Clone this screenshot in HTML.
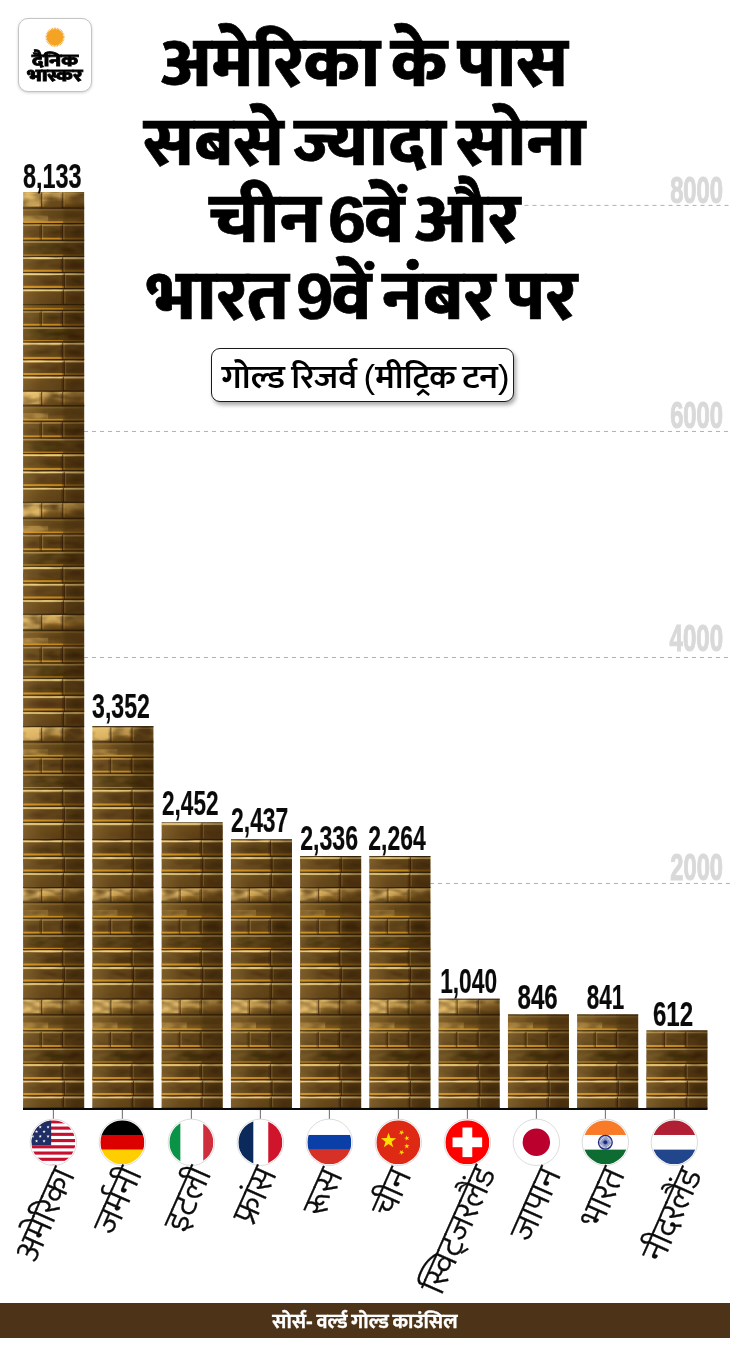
<!DOCTYPE html>
<html lang="hi"><head><meta charset="utf-8"><title>गोल्ड रिजर्व</title><style>
html,body{margin:0;padding:0;background:#fff}
body{width:730px;height:1351px;position:relative;overflow:hidden;font-family:"Liberation Sans","Mukta","Ek Mukta","Noto Sans Devanagari","Lohit Devanagari","FreeSans",sans-serif;color:#000}
#g{position:absolute;left:0;top:0}
.t{position:absolute;left:0;width:730px;text-align:center;white-space:nowrap;font-weight:800;font-size:70.5px;line-height:74px;-webkit-text-stroke:.7px #000;word-spacing:-9.5px}
.t span{background:#fff;display:inline-block;height:74px;transform:scaleX(1.033);transform-origin:50% 50%}
.t .d{font-weight:700;margin:0 -2px 0 -3.5px;font-size:64.5px}
.num{font-family:"Liberation Sans",sans-serif;font-weight:700}
#logo{position:absolute;left:18px;top:18px;width:72px;height:72px;border:1px solid #c4c4c4;border-radius:10px;background:#fff;box-shadow:0 1px 3px rgba(0,0,0,.18)}
#logo div{position:absolute;left:0;width:72px;text-align:center;font-weight:800;white-space:nowrap;-webkit-text-stroke:.8px #000}
#pill{position:absolute;left:211.3px;top:347.7px;width:300.5px;height:51.9px;border:1.6px solid #1a1a1a;border-radius:9px;background:#fff;box-shadow:2px 3px 4px rgba(0,0,0,.35);text-align:center;font-weight:600;font-size:32.5px;line-height:57px;white-space:nowrap;word-spacing:-3.1px}
#pill i{font-style:normal;font-weight:400}
#pill span{display:inline-block;transform:scaleX(1.07);position:relative;left:3.5px}
#foot{position:absolute;left:0;top:1303.3px;width:730px;height:34.7px;background:#4d3318;color:#fff;text-align:center;font-weight:700;font-size:20.3px;line-height:37.4px;white-space:nowrap;word-spacing:-2px;-webkit-text-stroke:.3px #fff}
</style></head><body>
<svg id="g" width="730" height="1351" viewBox="0 0 730 1351"><defs><linearGradient id="gL3" x1="0" y1="0" x2="0" y2="1"><stop offset="0" stop-color="#c49a4a"/><stop offset="0.15" stop-color="#c9a050"/><stop offset="0.6" stop-color="#a87c32"/><stop offset="0.85" stop-color="#6c4b19"/><stop offset="1" stop-color="#48300f"/></linearGradient><linearGradient id="gF" x1="0" y1="0" x2="0" y2="1"><stop offset="0" stop-color="#533a13"/><stop offset="0.12" stop-color="#73521d"/><stop offset="0.5" stop-color="#6c4b1c"/><stop offset="0.85" stop-color="#7e5c22"/><stop offset="1" stop-color="#644517"/></linearGradient><linearGradient id="g3" x1="0" y1="0" x2="0" y2="1"><stop offset="0" stop-color="#b48c40"/><stop offset="0.12" stop-color="#614316"/><stop offset="0.5" stop-color="#513711"/><stop offset="0.85" stop-color="#593d15"/><stop offset="1" stop-color="#694613"/></linearGradient><linearGradient id="gF2" x1="0" y1="0" x2="0" y2="1"><stop offset="0" stop-color="#8a662a"/><stop offset="0.12" stop-color="#533911"/><stop offset="0.5" stop-color="#48310e"/><stop offset="0.85" stop-color="#513711"/><stop offset="1" stop-color="#5a3d12"/></linearGradient><linearGradient id="gS1" x1="0" y1="0" x2="0" y2="1"><stop offset="0" stop-color="#dcb966"/><stop offset="0.11" stop-color="#b68e42"/><stop offset="0.2" stop-color="#5c4015"/><stop offset="0.6" stop-color="#533911"/><stop offset="0.85" stop-color="#604216"/><stop offset="1" stop-color="#694613"/></linearGradient><linearGradient id="gS2" x1="0" y1="0" x2="0" y2="1"><stop offset="0" stop-color="#dcb966"/><stop offset="0.11" stop-color="#b68e42"/><stop offset="0.2" stop-color="#604216"/><stop offset="0.6" stop-color="#563a12"/><stop offset="0.85" stop-color="#604216"/><stop offset="1" stop-color="#694613"/></linearGradient><linearGradient id="gS3" x1="0" y1="0" x2="0" y2="1"><stop offset="0" stop-color="#dcb966"/><stop offset="0.11" stop-color="#aa843a"/><stop offset="0.2" stop-color="#68481a"/><stop offset="0.6" stop-color="#614217"/><stop offset="0.85" stop-color="#5c4016"/><stop offset="1" stop-color="#48300f"/></linearGradient><linearGradient id="gH" x1="0" y1="0" x2="1" y2="0"><stop offset="0" stop-color="#ffd37a" stop-opacity=".18"/><stop offset=".3" stop-color="#ffd37a" stop-opacity=".05"/><stop offset=".62" stop-color="#2a1600" stop-opacity=".04"/><stop offset=".7" stop-color="#2a1600" stop-opacity=".26"/><stop offset="1" stop-color="#2a1600" stop-opacity=".4"/></linearGradient><filter id="mot" x="0" y="0" width="1" height="1"><feTurbulence type="fractalNoise" baseFrequency="0.05 0.11" numOctaves="2" seed="4" result="n"/><feColorMatrix in="n" type="matrix" values="0 0 0 0 0.12  0 0 0 0 0.06  0 0 0 0 0.01  2.4 0 0 0 -0.85"/><feComposite operator="in" in2="SourceGraphic"/></filter><filter id="bl2" x="-0.1" y="-0.01" width="1.2" height="1.02"><feGaussianBlur stdDeviation="1.6"/></filter><filter id="bl" x="-0.1" y="-0.01" width="1.2" height="1.02"><feGaussianBlur stdDeviation="0.45"/></filter><clipPath id="fc"><circle r="22.0"/></clipPath><clipPath id="c0"><rect x="0" y="192" width="61" height="916.5"/></clipPath><clipPath id="c1"><rect x="0" y="726.3" width="61" height="382.20000000000005"/></clipPath><clipPath id="c2"><rect x="0" y="822.5" width="61" height="286.0"/></clipPath><clipPath id="c3"><rect x="0" y="839.5" width="61" height="269.0"/></clipPath><clipPath id="c4"><rect x="0" y="856" width="61" height="252.5"/></clipPath><clipPath id="c5"><rect x="0" y="856" width="61" height="252.5"/></clipPath><clipPath id="c6"><rect x="0" y="998.7" width="61" height="109.79999999999995"/></clipPath><clipPath id="c7"><rect x="0" y="1014.5" width="61" height="94.0"/></clipPath><clipPath id="c8"><rect x="0" y="1014.5" width="61" height="94.0"/></clipPath><clipPath id="c9"><rect x="0" y="1030.5" width="61" height="78.0"/></clipPath><g id="gold"><g filter="url(#bl)"><rect x="-1" y="192.0" width="63" height="16.8" fill="url(#gL3)"/><rect x="-1" y="192.0" width="19" height="14.5" fill="#ecc676" fill-opacity=".7"/><rect x="18.4" y="192.0" width="21" height="9.1" fill="#ecc676" fill-opacity=".4"/><rect x="-1" y="208.5" width="63" height="15.8" fill="url(#gF)"/><rect x="-1" y="215.5" width="26" height="6.2" fill="#e0b862" fill-opacity=".45"/><rect x="-1" y="224.0" width="63" height="17.0" fill="url(#g3)"/><rect x="-1" y="240.7" width="63" height="16.4" fill="url(#gF2)"/><rect x="-1" y="256.8" width="63" height="16.4" fill="url(#gS1)"/><rect x="-1" y="272.9" width="63" height="16.4" fill="url(#gS2)"/><rect x="-1" y="289.0" width="63" height="16.4" fill="url(#gS3)"/><rect x="-1" y="305.1" width="63" height="5.9" fill="url(#gF)"/><rect x="-1" y="310.7" width="63" height="16.4" fill="url(#g3)"/><rect x="-1" y="326.8" width="63" height="15.9" fill="url(#gF2)"/><rect x="-1" y="342.4" width="63" height="18.0" fill="url(#gS1)"/><rect x="-1" y="360.1" width="63" height="16.4" fill="url(#gS2)"/><rect x="-1" y="376.2" width="63" height="15.6" fill="url(#gS3)"/><rect x="-1" y="391.5" width="63" height="15.0" fill="url(#gL3)"/><rect x="-1" y="391.5" width="19" height="12.7" fill="#ecc676" fill-opacity=".7"/><rect x="18.4" y="391.5" width="21" height="8.1" fill="#ecc676" fill-opacity=".4"/><rect x="-1" y="406.2" width="63" height="15.8" fill="url(#gF)"/><rect x="-1" y="413.2" width="26" height="6.2" fill="#e0b862" fill-opacity=".45"/><rect x="-1" y="421.7" width="63" height="17.0" fill="url(#g3)"/><rect x="-1" y="438.4" width="63" height="15.8" fill="url(#gF2)"/><rect x="-1" y="453.9" width="63" height="17.5" fill="url(#gS1)"/><rect x="-1" y="471.1" width="63" height="16.6" fill="url(#gS2)"/><rect x="-1" y="487.4" width="63" height="15.6" fill="url(#gS3)"/><rect x="-1" y="502.7" width="63" height="16.3" fill="url(#gL3)"/><rect x="-1" y="502.7" width="19" height="14.0" fill="#ecc676" fill-opacity=".7"/><rect x="18.4" y="502.7" width="21" height="8.8" fill="#ecc676" fill-opacity=".4"/><rect x="-1" y="518.7" width="63" height="16.0" fill="url(#gF)"/><rect x="-1" y="525.8" width="26" height="6.3" fill="#e0b862" fill-opacity=".45"/><rect x="-1" y="534.4" width="63" height="17.3" fill="url(#g3)"/><rect x="-1" y="551.4" width="63" height="15.6" fill="url(#gF2)"/><rect x="-1" y="566.7" width="63" height="17.0" fill="url(#gS1)"/><rect x="-1" y="583.4" width="63" height="16.6" fill="url(#gS2)"/><rect x="-1" y="599.7" width="63" height="15.3" fill="url(#gS3)"/><rect x="-1" y="614.7" width="63" height="16.3" fill="url(#gL3)"/><rect x="-1" y="614.7" width="19" height="14.0" fill="#ecc676" fill-opacity=".7"/><rect x="18.4" y="614.7" width="21" height="8.8" fill="#ecc676" fill-opacity=".4"/><rect x="-1" y="630.7" width="63" height="16.0" fill="url(#gF)"/><rect x="-1" y="637.8" width="26" height="6.3" fill="#e0b862" fill-opacity=".45"/><rect x="-1" y="646.4" width="63" height="17.3" fill="url(#g3)"/><rect x="-1" y="663.4" width="63" height="15.6" fill="url(#gF2)"/><rect x="-1" y="678.7" width="63" height="17.3" fill="url(#gS1)"/><rect x="-1" y="695.7" width="63" height="16.3" fill="url(#gS2)"/><rect x="-1" y="711.7" width="63" height="15.6" fill="url(#gS3)"/><rect x="-1" y="727.0" width="63" height="15.7" fill="url(#gL3)"/><rect x="-1" y="727.0" width="19" height="13.4" fill="#ecc676" fill-opacity=".7"/><rect x="18.4" y="727.0" width="21" height="8.5" fill="#ecc676" fill-opacity=".4"/><rect x="-1" y="742.4" width="63" height="15.6" fill="url(#gF)"/><rect x="-1" y="749.3" width="26" height="6.1" fill="#e0b862" fill-opacity=".45"/><rect x="-1" y="757.7" width="63" height="16.3" fill="url(#g3)"/><rect x="-1" y="773.7" width="63" height="16.0" fill="url(#gF2)"/><rect x="-1" y="789.4" width="63" height="17.6" fill="url(#gS1)"/><rect x="-1" y="806.7" width="63" height="16.3" fill="url(#gS2)"/><rect x="-1" y="822.7" width="63" height="17.6" fill="url(#gS3)"/><rect x="-1" y="840.0" width="63" height="17.0" fill="url(#gS1)"/><rect x="-1" y="856.7" width="63" height="16.3" fill="url(#gS2)"/><rect x="-1" y="872.7" width="63" height="15.6" fill="url(#gS3)"/><rect x="-1" y="888.0" width="63" height="15.0" fill="url(#gL3)"/><rect x="-1" y="888.0" width="19" height="12.7" fill="#ecc676" fill-opacity=".7"/><rect x="18.4" y="888.0" width="21" height="8.1" fill="#ecc676" fill-opacity=".4"/><rect x="-1" y="902.7" width="63" height="16.3" fill="url(#gF)"/><rect x="-1" y="909.9" width="26" height="6.4" fill="#e0b862" fill-opacity=".45"/><rect x="-1" y="918.7" width="63" height="16.3" fill="url(#g3)"/><rect x="-1" y="934.7" width="63" height="15.6" fill="url(#gF2)"/><rect x="-1" y="950.0" width="63" height="17.0" fill="url(#gS1)"/><rect x="-1" y="966.7" width="63" height="16.3" fill="url(#gS2)"/><rect x="-1" y="982.7" width="63" height="17.0" fill="url(#gS3)"/><rect x="-1" y="999.4" width="63" height="16.1" fill="url(#gL3)"/><rect x="-1" y="999.4" width="19" height="13.8" fill="#ecc676" fill-opacity=".7"/><rect x="18.4" y="999.4" width="21" height="8.7" fill="#ecc676" fill-opacity=".4"/><rect x="-1" y="1015.2" width="63" height="16.3" fill="url(#gF)"/><rect x="-1" y="1022.4" width="26" height="6.4" fill="#e0b862" fill-opacity=".45"/><rect x="-1" y="1031.2" width="63" height="17.1" fill="url(#g3)"/><rect x="-1" y="1048.0" width="63" height="16.0" fill="url(#gF2)"/><rect x="-1" y="1063.7" width="63" height="16.8" fill="url(#gS1)"/><rect x="-1" y="1080.2" width="63" height="16.3" fill="url(#gS2)"/><rect x="-1" y="1096.2" width="63" height="12.6" fill="url(#gS3)"/></g><g filter="url(#bl2)" fill="#241402"><ellipse cx="30" cy="202.9" rx="7" ry="2.8" fill-opacity="0.32"/><ellipse cx="52" cy="201.1" rx="7" ry="3" fill-opacity="0.2"/><ellipse cx="38" cy="214.4" rx="20" ry="2.8" fill-opacity="0.28"/><ellipse cx="29" cy="233.2" rx="7" ry="3.6" fill-opacity="0.38"/><ellipse cx="51" cy="232.3" rx="8" ry="4.2" fill-opacity="0.42"/><ellipse cx="8" cy="234.0" rx="6" ry="3" fill-opacity="0.25"/><ellipse cx="24" cy="248.8" rx="18" ry="3.8" fill-opacity="0.3"/><ellipse cx="52" cy="249.6" rx="8" ry="3.5" fill-opacity="0.25"/><ellipse cx="22" cy="266.1" rx="16" ry="3.4" fill-opacity="0.32"/><ellipse cx="52" cy="264.9" rx="7" ry="3.5" fill-opacity="0.25"/><ellipse cx="20" cy="280.9" rx="14" ry="3.2" fill-opacity="0.22"/><ellipse cx="53" cy="281.8" rx="6" ry="3.5" fill-opacity="0.28"/><ellipse cx="52" cy="297.9" rx="7" ry="3.5" fill-opacity="0.2"/><ellipse cx="29" cy="319.6" rx="7" ry="3.6" fill-opacity="0.38"/><ellipse cx="51" cy="318.8" rx="8" ry="4.2" fill-opacity="0.42"/><ellipse cx="8" cy="320.4" rx="6" ry="3" fill-opacity="0.25"/><ellipse cx="24" cy="334.6" rx="18" ry="3.8" fill-opacity="0.3"/><ellipse cx="52" cy="335.4" rx="8" ry="3.5" fill-opacity="0.25"/><ellipse cx="22" cy="352.7" rx="16" ry="3.4" fill-opacity="0.32"/><ellipse cx="52" cy="351.2" rx="7" ry="3.5" fill-opacity="0.25"/><ellipse cx="20" cy="368.1" rx="14" ry="3.2" fill-opacity="0.22"/><ellipse cx="53" cy="369.0" rx="6" ry="3.5" fill-opacity="0.28"/><ellipse cx="52" cy="384.6" rx="7" ry="3.5" fill-opacity="0.2"/><ellipse cx="30" cy="401.2" rx="7" ry="2.8" fill-opacity="0.32"/><ellipse cx="52" cy="399.6" rx="7" ry="3" fill-opacity="0.2"/><ellipse cx="38" cy="412.1" rx="20" ry="2.8" fill-opacity="0.28"/><ellipse cx="29" cy="430.9" rx="7" ry="3.6" fill-opacity="0.38"/><ellipse cx="51" cy="430.0" rx="8" ry="4.2" fill-opacity="0.42"/><ellipse cx="8" cy="431.7" rx="6" ry="3" fill-opacity="0.25"/><ellipse cx="24" cy="446.1" rx="18" ry="3.8" fill-opacity="0.3"/><ellipse cx="52" cy="446.9" rx="8" ry="3.5" fill-opacity="0.25"/><ellipse cx="22" cy="463.9" rx="16" ry="3.4" fill-opacity="0.32"/><ellipse cx="52" cy="462.5" rx="7" ry="3.5" fill-opacity="0.25"/><ellipse cx="20" cy="479.2" rx="14" ry="3.2" fill-opacity="0.22"/><ellipse cx="53" cy="480.1" rx="6" ry="3.5" fill-opacity="0.28"/><ellipse cx="52" cy="495.8" rx="7" ry="3.5" fill-opacity="0.2"/><ellipse cx="30" cy="513.3" rx="7" ry="2.8" fill-opacity="0.32"/><ellipse cx="52" cy="511.5" rx="7" ry="3" fill-opacity="0.2"/><ellipse cx="38" cy="524.7" rx="20" ry="2.8" fill-opacity="0.28"/><ellipse cx="29" cy="543.8" rx="7" ry="3.6" fill-opacity="0.38"/><ellipse cx="51" cy="542.9" rx="8" ry="4.2" fill-opacity="0.42"/><ellipse cx="8" cy="544.6" rx="6" ry="3" fill-opacity="0.25"/><ellipse cx="24" cy="559.1" rx="18" ry="3.8" fill-opacity="0.3"/><ellipse cx="52" cy="559.8" rx="8" ry="3.5" fill-opacity="0.25"/><ellipse cx="22" cy="576.4" rx="16" ry="3.4" fill-opacity="0.32"/><ellipse cx="52" cy="575.1" rx="7" ry="3.5" fill-opacity="0.25"/><ellipse cx="20" cy="591.6" rx="14" ry="3.2" fill-opacity="0.22"/><ellipse cx="53" cy="592.4" rx="6" ry="3.5" fill-opacity="0.28"/><ellipse cx="52" cy="608.0" rx="7" ry="3.5" fill-opacity="0.2"/><ellipse cx="30" cy="625.3" rx="7" ry="2.8" fill-opacity="0.32"/><ellipse cx="52" cy="623.5" rx="7" ry="3" fill-opacity="0.2"/><ellipse cx="38" cy="636.7" rx="20" ry="2.8" fill-opacity="0.28"/><ellipse cx="29" cy="655.8" rx="7" ry="3.6" fill-opacity="0.38"/><ellipse cx="51" cy="654.9" rx="8" ry="4.2" fill-opacity="0.42"/><ellipse cx="8" cy="656.6" rx="6" ry="3" fill-opacity="0.25"/><ellipse cx="24" cy="671.1" rx="18" ry="3.8" fill-opacity="0.3"/><ellipse cx="52" cy="671.8" rx="8" ry="3.5" fill-opacity="0.25"/><ellipse cx="22" cy="688.6" rx="16" ry="3.4" fill-opacity="0.32"/><ellipse cx="52" cy="687.2" rx="7" ry="3.5" fill-opacity="0.25"/><ellipse cx="20" cy="703.7" rx="14" ry="3.2" fill-opacity="0.22"/><ellipse cx="53" cy="704.5" rx="6" ry="3.5" fill-opacity="0.28"/><ellipse cx="52" cy="720.1" rx="7" ry="3.5" fill-opacity="0.2"/><ellipse cx="30" cy="737.2" rx="7" ry="2.8" fill-opacity="0.32"/><ellipse cx="52" cy="735.5" rx="7" ry="3" fill-opacity="0.2"/><ellipse cx="38" cy="748.2" rx="20" ry="2.8" fill-opacity="0.28"/><ellipse cx="29" cy="766.5" rx="7" ry="3.6" fill-opacity="0.38"/><ellipse cx="51" cy="765.7" rx="8" ry="4.2" fill-opacity="0.42"/><ellipse cx="8" cy="767.3" rx="6" ry="3" fill-opacity="0.25"/><ellipse cx="24" cy="781.6" rx="18" ry="3.8" fill-opacity="0.3"/><ellipse cx="52" cy="782.3" rx="8" ry="3.5" fill-opacity="0.25"/><ellipse cx="22" cy="799.4" rx="16" ry="3.4" fill-opacity="0.32"/><ellipse cx="52" cy="798.1" rx="7" ry="3.5" fill-opacity="0.25"/><ellipse cx="20" cy="814.7" rx="14" ry="3.2" fill-opacity="0.22"/><ellipse cx="53" cy="815.5" rx="6" ry="3.5" fill-opacity="0.28"/><ellipse cx="52" cy="832.2" rx="7" ry="3.5" fill-opacity="0.2"/><ellipse cx="22" cy="849.7" rx="16" ry="3.4" fill-opacity="0.32"/><ellipse cx="52" cy="848.4" rx="7" ry="3.5" fill-opacity="0.25"/><ellipse cx="20" cy="864.7" rx="14" ry="3.2" fill-opacity="0.22"/><ellipse cx="53" cy="865.5" rx="6" ry="3.5" fill-opacity="0.28"/><ellipse cx="52" cy="881.1" rx="7" ry="3.5" fill-opacity="0.2"/><ellipse cx="30" cy="897.7" rx="7" ry="2.8" fill-opacity="0.32"/><ellipse cx="52" cy="896.1" rx="7" ry="3" fill-opacity="0.2"/><ellipse cx="38" cy="908.8" rx="20" ry="2.8" fill-opacity="0.28"/><ellipse cx="29" cy="927.5" rx="7" ry="3.6" fill-opacity="0.38"/><ellipse cx="51" cy="926.7" rx="8" ry="4.2" fill-opacity="0.42"/><ellipse cx="8" cy="928.3" rx="6" ry="3" fill-opacity="0.25"/><ellipse cx="24" cy="942.4" rx="18" ry="3.8" fill-opacity="0.3"/><ellipse cx="52" cy="943.1" rx="8" ry="3.5" fill-opacity="0.25"/><ellipse cx="22" cy="959.7" rx="16" ry="3.4" fill-opacity="0.32"/><ellipse cx="52" cy="958.4" rx="7" ry="3.5" fill-opacity="0.25"/><ellipse cx="20" cy="974.7" rx="14" ry="3.2" fill-opacity="0.22"/><ellipse cx="53" cy="975.5" rx="6" ry="3.5" fill-opacity="0.28"/><ellipse cx="52" cy="991.9" rx="7" ry="3.5" fill-opacity="0.2"/><ellipse cx="30" cy="1009.8" rx="7" ry="2.8" fill-opacity="0.32"/><ellipse cx="52" cy="1008.1" rx="7" ry="3" fill-opacity="0.2"/><ellipse cx="38" cy="1021.3" rx="20" ry="2.8" fill-opacity="0.28"/><ellipse cx="29" cy="1040.4" rx="7" ry="3.6" fill-opacity="0.38"/><ellipse cx="51" cy="1039.6" rx="8" ry="4.2" fill-opacity="0.42"/><ellipse cx="8" cy="1041.3" rx="6" ry="3" fill-opacity="0.25"/><ellipse cx="24" cy="1055.8" rx="18" ry="3.8" fill-opacity="0.3"/><ellipse cx="52" cy="1056.6" rx="8" ry="3.5" fill-opacity="0.25"/><ellipse cx="22" cy="1073.3" rx="16" ry="3.4" fill-opacity="0.32"/><ellipse cx="52" cy="1072.0" rx="7" ry="3.5" fill-opacity="0.25"/><ellipse cx="20" cy="1088.2" rx="14" ry="3.2" fill-opacity="0.22"/><ellipse cx="53" cy="1089.0" rx="6" ry="3.5" fill-opacity="0.28"/><ellipse cx="52" cy="1103.0" rx="7" ry="3.5" fill-opacity="0.2"/></g><rect x="0" y="192" width="61" height="917" fill="#000" filter="url(#mot)"/><g filter="url(#bl)"><rect x="-1" y="192.7" width="63" height="1.4" fill="#f5dc92" fill-opacity="0.25"/><rect x="-1" y="207.5" width="63" height="1.2" fill="#2a1703" fill-opacity=".85"/><rect x="17.8" y="192.5" width="1.2" height="16.0" fill="#2a1703" fill-opacity=".62"/><rect x="19.2" y="193.5" width="1.2" height="13.5" fill="#e9c877" fill-opacity=".22"/><rect x="16.2" y="193.5" width="1.6" height="13.5" fill="#2a1703" fill-opacity=".22"/><rect x="38.9" y="192.5" width="1.2" height="16.0" fill="#2a1703" fill-opacity=".62"/><rect x="40.3" y="193.5" width="1.2" height="13.5" fill="#e9c877" fill-opacity=".22"/><rect x="37.3" y="193.5" width="1.6" height="13.5" fill="#2a1703" fill-opacity=".22"/><rect x="-1" y="209.2" width="63" height="1.4" fill="#f5dc92" fill-opacity="0.15"/><rect x="-1" y="221.2" width="41.0" height="1.8" fill="#d8941c" fill-opacity=".85"/><rect x="40.0" y="221.2" width="22.0" height="1.8" fill="#c4841a" fill-opacity=".45"/><rect x="-1" y="223.0" width="63" height="1.2" fill="#2a1703" fill-opacity=".85"/><rect x="-1" y="224.7" width="63" height="1.4" fill="#f5dc92" fill-opacity="0.35"/><rect x="-1" y="237.7" width="40.3" height="2.0" fill="#d8941c" fill-opacity=".85"/><rect x="39.3" y="237.7" width="22.7" height="2.0" fill="#c4841a" fill-opacity=".45"/><rect x="-1" y="239.7" width="63" height="1.2" fill="#2a1703" fill-opacity=".85"/><rect x="17.4" y="224.5" width="1.2" height="16.2" fill="#2a1703" fill-opacity=".62"/><rect x="18.8" y="225.5" width="1.2" height="13.7" fill="#e9c877" fill-opacity=".22"/><rect x="15.8" y="225.5" width="1.6" height="13.7" fill="#2a1703" fill-opacity=".22"/><rect x="38.7" y="224.5" width="1.2" height="16.2" fill="#2a1703" fill-opacity=".62"/><rect x="40.1" y="225.5" width="1.2" height="13.7" fill="#e9c877" fill-opacity=".22"/><rect x="37.1" y="225.5" width="1.6" height="13.7" fill="#2a1703" fill-opacity=".22"/><rect x="-1" y="241.4" width="63" height="1.4" fill="#f5dc92" fill-opacity="0.45"/><rect x="-1" y="254.6" width="41.0" height="1.2" fill="#d8941c" fill-opacity=".85"/><rect x="40.0" y="254.6" width="22.0" height="1.2" fill="#c4841a" fill-opacity=".45"/><rect x="-1" y="255.8" width="63" height="1.2" fill="#2a1703" fill-opacity=".85"/><rect x="-1" y="257.5" width="63" height="1.4" fill="#f5dc92" fill-opacity="0.85"/><rect x="-1" y="269.7" width="40.5" height="2.2" fill="#d8941c" fill-opacity=".85"/><rect x="39.5" y="269.7" width="22.5" height="2.2" fill="#c4841a" fill-opacity=".45"/><rect x="-1" y="271.9" width="63" height="1.2" fill="#2a1703" fill-opacity=".85"/><rect x="38.9" y="257.3" width="1.2" height="15.6" fill="#2a1703" fill-opacity=".62"/><rect x="40.3" y="258.3" width="1.2" height="13.1" fill="#e9c877" fill-opacity=".22"/><rect x="37.3" y="258.3" width="1.6" height="13.1" fill="#2a1703" fill-opacity=".22"/><rect x="-1" y="273.6" width="63" height="1.4" fill="#f5dc92" fill-opacity="0.85"/><rect x="-1" y="285.8" width="42.0" height="2.2" fill="#d8941c" fill-opacity=".85"/><rect x="41.0" y="285.8" width="21.0" height="2.2" fill="#c4841a" fill-opacity=".45"/><rect x="-1" y="288.0" width="63" height="1.2" fill="#2a1703" fill-opacity=".85"/><rect x="40.4" y="273.4" width="1.2" height="15.6" fill="#2a1703" fill-opacity=".62"/><rect x="41.8" y="274.4" width="1.2" height="13.1" fill="#e9c877" fill-opacity=".22"/><rect x="38.8" y="274.4" width="1.6" height="13.1" fill="#2a1703" fill-opacity=".22"/><rect x="-1" y="289.7" width="63" height="1.4" fill="#f5dc92" fill-opacity="0.85"/><rect x="-1" y="304.1" width="63" height="1.2" fill="#2a1703" fill-opacity=".85"/><rect x="39.7" y="289.5" width="1.2" height="15.6" fill="#2a1703" fill-opacity=".62"/><rect x="41.1" y="290.5" width="1.2" height="13.1" fill="#e9c877" fill-opacity=".22"/><rect x="38.1" y="290.5" width="1.6" height="13.1" fill="#2a1703" fill-opacity=".22"/><rect x="-1" y="308.2" width="41.0" height="1.5" fill="#d8941c" fill-opacity=".85"/><rect x="40.0" y="308.2" width="22.0" height="1.5" fill="#c4841a" fill-opacity=".45"/><rect x="-1" y="309.7" width="63" height="1.2" fill="#2a1703" fill-opacity=".85"/><rect x="-1" y="311.4" width="63" height="1.4" fill="#f5dc92" fill-opacity="0.35"/><rect x="-1" y="323.8" width="40.3" height="2.0" fill="#d8941c" fill-opacity=".85"/><rect x="39.3" y="323.8" width="22.7" height="2.0" fill="#c4841a" fill-opacity=".45"/><rect x="-1" y="325.8" width="63" height="1.2" fill="#2a1703" fill-opacity=".85"/><rect x="17.4" y="311.2" width="1.2" height="15.6" fill="#2a1703" fill-opacity=".62"/><rect x="18.8" y="312.2" width="1.2" height="13.1" fill="#e9c877" fill-opacity=".22"/><rect x="15.8" y="312.2" width="1.6" height="13.1" fill="#2a1703" fill-opacity=".22"/><rect x="38.7" y="311.2" width="1.2" height="15.6" fill="#2a1703" fill-opacity=".62"/><rect x="40.1" y="312.2" width="1.2" height="13.1" fill="#e9c877" fill-opacity=".22"/><rect x="37.1" y="312.2" width="1.6" height="13.1" fill="#2a1703" fill-opacity=".22"/><rect x="-1" y="327.5" width="63" height="1.4" fill="#f5dc92" fill-opacity="0.45"/><rect x="-1" y="340.2" width="41.0" height="1.2" fill="#d8941c" fill-opacity=".85"/><rect x="40.0" y="340.2" width="22.0" height="1.2" fill="#c4841a" fill-opacity=".45"/><rect x="-1" y="341.4" width="63" height="1.2" fill="#2a1703" fill-opacity=".85"/><rect x="-1" y="343.1" width="63" height="1.4" fill="#f5dc92" fill-opacity="0.85"/><rect x="-1" y="356.9" width="40.5" height="2.2" fill="#d8941c" fill-opacity=".85"/><rect x="39.5" y="356.9" width="22.5" height="2.2" fill="#c4841a" fill-opacity=".45"/><rect x="-1" y="359.1" width="63" height="1.2" fill="#2a1703" fill-opacity=".85"/><rect x="38.9" y="342.9" width="1.2" height="17.2" fill="#2a1703" fill-opacity=".62"/><rect x="40.3" y="343.9" width="1.2" height="14.7" fill="#e9c877" fill-opacity=".22"/><rect x="37.3" y="343.9" width="1.6" height="14.7" fill="#2a1703" fill-opacity=".22"/><rect x="-1" y="360.8" width="63" height="1.4" fill="#f5dc92" fill-opacity="0.85"/><rect x="-1" y="373.0" width="42.0" height="2.2" fill="#d8941c" fill-opacity=".85"/><rect x="41.0" y="373.0" width="21.0" height="2.2" fill="#c4841a" fill-opacity=".45"/><rect x="-1" y="375.2" width="63" height="1.2" fill="#2a1703" fill-opacity=".85"/><rect x="40.4" y="360.6" width="1.2" height="15.6" fill="#2a1703" fill-opacity=".62"/><rect x="41.8" y="361.6" width="1.2" height="13.1" fill="#e9c877" fill-opacity=".22"/><rect x="38.8" y="361.6" width="1.6" height="13.1" fill="#2a1703" fill-opacity=".22"/><rect x="-1" y="376.9" width="63" height="1.4" fill="#f5dc92" fill-opacity="0.85"/><rect x="-1" y="390.5" width="63" height="1.2" fill="#2a1703" fill-opacity=".85"/><rect x="39.7" y="376.7" width="1.2" height="14.8" fill="#2a1703" fill-opacity=".62"/><rect x="41.1" y="377.7" width="1.2" height="12.3" fill="#e9c877" fill-opacity=".22"/><rect x="38.1" y="377.7" width="1.6" height="12.3" fill="#2a1703" fill-opacity=".22"/><rect x="-1" y="392.2" width="63" height="1.4" fill="#f5dc92" fill-opacity="0.25"/><rect x="-1" y="405.2" width="63" height="1.2" fill="#2a1703" fill-opacity=".85"/><rect x="17.8" y="392.0" width="1.2" height="14.2" fill="#2a1703" fill-opacity=".62"/><rect x="19.2" y="393.0" width="1.2" height="11.7" fill="#e9c877" fill-opacity=".22"/><rect x="16.2" y="393.0" width="1.6" height="11.7" fill="#2a1703" fill-opacity=".22"/><rect x="38.9" y="392.0" width="1.2" height="14.2" fill="#2a1703" fill-opacity=".62"/><rect x="40.3" y="393.0" width="1.2" height="11.7" fill="#e9c877" fill-opacity=".22"/><rect x="37.3" y="393.0" width="1.6" height="11.7" fill="#2a1703" fill-opacity=".22"/><rect x="-1" y="406.9" width="63" height="1.4" fill="#f5dc92" fill-opacity="0.15"/><rect x="-1" y="418.9" width="41.0" height="1.8" fill="#d8941c" fill-opacity=".85"/><rect x="40.0" y="418.9" width="22.0" height="1.8" fill="#c4841a" fill-opacity=".45"/><rect x="-1" y="420.7" width="63" height="1.2" fill="#2a1703" fill-opacity=".85"/><rect x="-1" y="422.4" width="63" height="1.4" fill="#f5dc92" fill-opacity="0.35"/><rect x="-1" y="435.4" width="40.3" height="2.0" fill="#d8941c" fill-opacity=".85"/><rect x="39.3" y="435.4" width="22.7" height="2.0" fill="#c4841a" fill-opacity=".45"/><rect x="-1" y="437.4" width="63" height="1.2" fill="#2a1703" fill-opacity=".85"/><rect x="17.4" y="422.2" width="1.2" height="16.2" fill="#2a1703" fill-opacity=".62"/><rect x="18.8" y="423.2" width="1.2" height="13.7" fill="#e9c877" fill-opacity=".22"/><rect x="15.8" y="423.2" width="1.6" height="13.7" fill="#2a1703" fill-opacity=".22"/><rect x="38.7" y="422.2" width="1.2" height="16.2" fill="#2a1703" fill-opacity=".62"/><rect x="40.1" y="423.2" width="1.2" height="13.7" fill="#e9c877" fill-opacity=".22"/><rect x="37.1" y="423.2" width="1.6" height="13.7" fill="#2a1703" fill-opacity=".22"/><rect x="-1" y="439.1" width="63" height="1.4" fill="#f5dc92" fill-opacity="0.45"/><rect x="-1" y="451.7" width="41.0" height="1.2" fill="#d8941c" fill-opacity=".85"/><rect x="40.0" y="451.7" width="22.0" height="1.2" fill="#c4841a" fill-opacity=".45"/><rect x="-1" y="452.9" width="63" height="1.2" fill="#2a1703" fill-opacity=".85"/><rect x="-1" y="454.6" width="63" height="1.4" fill="#f5dc92" fill-opacity="0.85"/><rect x="-1" y="467.9" width="40.5" height="2.2" fill="#d8941c" fill-opacity=".85"/><rect x="39.5" y="467.9" width="22.5" height="2.2" fill="#c4841a" fill-opacity=".45"/><rect x="-1" y="470.1" width="63" height="1.2" fill="#2a1703" fill-opacity=".85"/><rect x="38.9" y="454.4" width="1.2" height="16.7" fill="#2a1703" fill-opacity=".62"/><rect x="40.3" y="455.4" width="1.2" height="14.2" fill="#e9c877" fill-opacity=".22"/><rect x="37.3" y="455.4" width="1.6" height="14.2" fill="#2a1703" fill-opacity=".22"/><rect x="-1" y="471.8" width="63" height="1.4" fill="#f5dc92" fill-opacity="0.85"/><rect x="-1" y="484.2" width="42.0" height="2.2" fill="#d8941c" fill-opacity=".85"/><rect x="41.0" y="484.2" width="21.0" height="2.2" fill="#c4841a" fill-opacity=".45"/><rect x="-1" y="486.4" width="63" height="1.2" fill="#2a1703" fill-opacity=".85"/><rect x="40.4" y="471.6" width="1.2" height="15.8" fill="#2a1703" fill-opacity=".62"/><rect x="41.8" y="472.6" width="1.2" height="13.3" fill="#e9c877" fill-opacity=".22"/><rect x="38.8" y="472.6" width="1.6" height="13.3" fill="#2a1703" fill-opacity=".22"/><rect x="-1" y="488.1" width="63" height="1.4" fill="#f5dc92" fill-opacity="0.85"/><rect x="-1" y="501.7" width="63" height="1.2" fill="#2a1703" fill-opacity=".85"/><rect x="39.7" y="487.9" width="1.2" height="14.8" fill="#2a1703" fill-opacity=".62"/><rect x="41.1" y="488.9" width="1.2" height="12.3" fill="#e9c877" fill-opacity=".22"/><rect x="38.1" y="488.9" width="1.6" height="12.3" fill="#2a1703" fill-opacity=".22"/><rect x="-1" y="503.4" width="63" height="1.4" fill="#f5dc92" fill-opacity="0.25"/><rect x="-1" y="517.7" width="63" height="1.2" fill="#2a1703" fill-opacity=".85"/><rect x="17.8" y="503.2" width="1.2" height="15.5" fill="#2a1703" fill-opacity=".62"/><rect x="19.2" y="504.2" width="1.2" height="13.0" fill="#e9c877" fill-opacity=".22"/><rect x="16.2" y="504.2" width="1.6" height="13.0" fill="#2a1703" fill-opacity=".22"/><rect x="38.9" y="503.2" width="1.2" height="15.5" fill="#2a1703" fill-opacity=".62"/><rect x="40.3" y="504.2" width="1.2" height="13.0" fill="#e9c877" fill-opacity=".22"/><rect x="37.3" y="504.2" width="1.6" height="13.0" fill="#2a1703" fill-opacity=".22"/><rect x="-1" y="519.4" width="63" height="1.4" fill="#f5dc92" fill-opacity="0.15"/><rect x="-1" y="531.6" width="41.0" height="1.8" fill="#d8941c" fill-opacity=".85"/><rect x="40.0" y="531.6" width="22.0" height="1.8" fill="#c4841a" fill-opacity=".45"/><rect x="-1" y="533.4" width="63" height="1.2" fill="#2a1703" fill-opacity=".85"/><rect x="-1" y="535.1" width="63" height="1.4" fill="#f5dc92" fill-opacity="0.35"/><rect x="-1" y="548.4" width="40.3" height="2.0" fill="#d8941c" fill-opacity=".85"/><rect x="39.3" y="548.4" width="22.7" height="2.0" fill="#c4841a" fill-opacity=".45"/><rect x="-1" y="550.4" width="63" height="1.2" fill="#2a1703" fill-opacity=".85"/><rect x="17.4" y="534.9" width="1.2" height="16.5" fill="#2a1703" fill-opacity=".62"/><rect x="18.8" y="535.9" width="1.2" height="14.0" fill="#e9c877" fill-opacity=".22"/><rect x="15.8" y="535.9" width="1.6" height="14.0" fill="#2a1703" fill-opacity=".22"/><rect x="38.7" y="534.9" width="1.2" height="16.5" fill="#2a1703" fill-opacity=".62"/><rect x="40.1" y="535.9" width="1.2" height="14.0" fill="#e9c877" fill-opacity=".22"/><rect x="37.1" y="535.9" width="1.6" height="14.0" fill="#2a1703" fill-opacity=".22"/><rect x="-1" y="552.1" width="63" height="1.4" fill="#f5dc92" fill-opacity="0.45"/><rect x="-1" y="564.5" width="41.0" height="1.2" fill="#d8941c" fill-opacity=".85"/><rect x="40.0" y="564.5" width="22.0" height="1.2" fill="#c4841a" fill-opacity=".45"/><rect x="-1" y="565.7" width="63" height="1.2" fill="#2a1703" fill-opacity=".85"/><rect x="-1" y="567.4" width="63" height="1.4" fill="#f5dc92" fill-opacity="0.85"/><rect x="-1" y="580.2" width="40.5" height="2.2" fill="#d8941c" fill-opacity=".85"/><rect x="39.5" y="580.2" width="22.5" height="2.2" fill="#c4841a" fill-opacity=".45"/><rect x="-1" y="582.4" width="63" height="1.2" fill="#2a1703" fill-opacity=".85"/><rect x="38.9" y="567.2" width="1.2" height="16.2" fill="#2a1703" fill-opacity=".62"/><rect x="40.3" y="568.2" width="1.2" height="13.7" fill="#e9c877" fill-opacity=".22"/><rect x="37.3" y="568.2" width="1.6" height="13.7" fill="#2a1703" fill-opacity=".22"/><rect x="-1" y="584.1" width="63" height="1.4" fill="#f5dc92" fill-opacity="0.85"/><rect x="-1" y="596.5" width="42.0" height="2.2" fill="#d8941c" fill-opacity=".85"/><rect x="41.0" y="596.5" width="21.0" height="2.2" fill="#c4841a" fill-opacity=".45"/><rect x="-1" y="598.7" width="63" height="1.2" fill="#2a1703" fill-opacity=".85"/><rect x="40.4" y="583.9" width="1.2" height="15.8" fill="#2a1703" fill-opacity=".62"/><rect x="41.8" y="584.9" width="1.2" height="13.3" fill="#e9c877" fill-opacity=".22"/><rect x="38.8" y="584.9" width="1.6" height="13.3" fill="#2a1703" fill-opacity=".22"/><rect x="-1" y="600.4" width="63" height="1.4" fill="#f5dc92" fill-opacity="0.85"/><rect x="-1" y="613.7" width="63" height="1.2" fill="#2a1703" fill-opacity=".85"/><rect x="39.7" y="600.2" width="1.2" height="14.5" fill="#2a1703" fill-opacity=".62"/><rect x="41.1" y="601.2" width="1.2" height="12.0" fill="#e9c877" fill-opacity=".22"/><rect x="38.1" y="601.2" width="1.6" height="12.0" fill="#2a1703" fill-opacity=".22"/><rect x="-1" y="615.4" width="63" height="1.4" fill="#f5dc92" fill-opacity="0.25"/><rect x="-1" y="629.7" width="63" height="1.2" fill="#2a1703" fill-opacity=".85"/><rect x="17.8" y="615.2" width="1.2" height="15.5" fill="#2a1703" fill-opacity=".62"/><rect x="19.2" y="616.2" width="1.2" height="13.0" fill="#e9c877" fill-opacity=".22"/><rect x="16.2" y="616.2" width="1.6" height="13.0" fill="#2a1703" fill-opacity=".22"/><rect x="38.9" y="615.2" width="1.2" height="15.5" fill="#2a1703" fill-opacity=".62"/><rect x="40.3" y="616.2" width="1.2" height="13.0" fill="#e9c877" fill-opacity=".22"/><rect x="37.3" y="616.2" width="1.6" height="13.0" fill="#2a1703" fill-opacity=".22"/><rect x="-1" y="631.4" width="63" height="1.4" fill="#f5dc92" fill-opacity="0.15"/><rect x="-1" y="643.6" width="41.0" height="1.8" fill="#d8941c" fill-opacity=".85"/><rect x="40.0" y="643.6" width="22.0" height="1.8" fill="#c4841a" fill-opacity=".45"/><rect x="-1" y="645.4" width="63" height="1.2" fill="#2a1703" fill-opacity=".85"/><rect x="-1" y="647.1" width="63" height="1.4" fill="#f5dc92" fill-opacity="0.35"/><rect x="-1" y="660.4" width="40.3" height="2.0" fill="#d8941c" fill-opacity=".85"/><rect x="39.3" y="660.4" width="22.7" height="2.0" fill="#c4841a" fill-opacity=".45"/><rect x="-1" y="662.4" width="63" height="1.2" fill="#2a1703" fill-opacity=".85"/><rect x="17.4" y="646.9" width="1.2" height="16.5" fill="#2a1703" fill-opacity=".62"/><rect x="18.8" y="647.9" width="1.2" height="14.0" fill="#e9c877" fill-opacity=".22"/><rect x="15.8" y="647.9" width="1.6" height="14.0" fill="#2a1703" fill-opacity=".22"/><rect x="38.7" y="646.9" width="1.2" height="16.5" fill="#2a1703" fill-opacity=".62"/><rect x="40.1" y="647.9" width="1.2" height="14.0" fill="#e9c877" fill-opacity=".22"/><rect x="37.1" y="647.9" width="1.6" height="14.0" fill="#2a1703" fill-opacity=".22"/><rect x="-1" y="664.1" width="63" height="1.4" fill="#f5dc92" fill-opacity="0.45"/><rect x="-1" y="676.5" width="41.0" height="1.2" fill="#d8941c" fill-opacity=".85"/><rect x="40.0" y="676.5" width="22.0" height="1.2" fill="#c4841a" fill-opacity=".45"/><rect x="-1" y="677.7" width="63" height="1.2" fill="#2a1703" fill-opacity=".85"/><rect x="-1" y="679.4" width="63" height="1.4" fill="#f5dc92" fill-opacity="0.85"/><rect x="-1" y="692.5" width="40.5" height="2.2" fill="#d8941c" fill-opacity=".85"/><rect x="39.5" y="692.5" width="22.5" height="2.2" fill="#c4841a" fill-opacity=".45"/><rect x="-1" y="694.7" width="63" height="1.2" fill="#2a1703" fill-opacity=".85"/><rect x="38.9" y="679.2" width="1.2" height="16.5" fill="#2a1703" fill-opacity=".62"/><rect x="40.3" y="680.2" width="1.2" height="14.0" fill="#e9c877" fill-opacity=".22"/><rect x="37.3" y="680.2" width="1.6" height="14.0" fill="#2a1703" fill-opacity=".22"/><rect x="-1" y="696.4" width="63" height="1.4" fill="#f5dc92" fill-opacity="0.85"/><rect x="-1" y="708.5" width="42.0" height="2.2" fill="#d8941c" fill-opacity=".85"/><rect x="41.0" y="708.5" width="21.0" height="2.2" fill="#c4841a" fill-opacity=".45"/><rect x="-1" y="710.7" width="63" height="1.2" fill="#2a1703" fill-opacity=".85"/><rect x="40.4" y="696.2" width="1.2" height="15.5" fill="#2a1703" fill-opacity=".62"/><rect x="41.8" y="697.2" width="1.2" height="13.0" fill="#e9c877" fill-opacity=".22"/><rect x="38.8" y="697.2" width="1.6" height="13.0" fill="#2a1703" fill-opacity=".22"/><rect x="-1" y="712.4" width="63" height="1.4" fill="#f5dc92" fill-opacity="0.85"/><rect x="-1" y="726.0" width="63" height="1.2" fill="#2a1703" fill-opacity=".85"/><rect x="39.7" y="712.2" width="1.2" height="14.8" fill="#2a1703" fill-opacity=".62"/><rect x="41.1" y="713.2" width="1.2" height="12.3" fill="#e9c877" fill-opacity=".22"/><rect x="38.1" y="713.2" width="1.6" height="12.3" fill="#2a1703" fill-opacity=".22"/><rect x="-1" y="727.7" width="63" height="1.4" fill="#f5dc92" fill-opacity="0.25"/><rect x="-1" y="741.4" width="63" height="1.2" fill="#2a1703" fill-opacity=".85"/><rect x="17.8" y="727.5" width="1.2" height="14.9" fill="#2a1703" fill-opacity=".62"/><rect x="19.2" y="728.5" width="1.2" height="12.4" fill="#e9c877" fill-opacity=".22"/><rect x="16.2" y="728.5" width="1.6" height="12.4" fill="#2a1703" fill-opacity=".22"/><rect x="38.9" y="727.5" width="1.2" height="14.9" fill="#2a1703" fill-opacity=".62"/><rect x="40.3" y="728.5" width="1.2" height="12.4" fill="#e9c877" fill-opacity=".22"/><rect x="37.3" y="728.5" width="1.6" height="12.4" fill="#2a1703" fill-opacity=".22"/><rect x="-1" y="743.1" width="63" height="1.4" fill="#f5dc92" fill-opacity="0.15"/><rect x="-1" y="754.9" width="41.0" height="1.8" fill="#d8941c" fill-opacity=".85"/><rect x="40.0" y="754.9" width="22.0" height="1.8" fill="#c4841a" fill-opacity=".45"/><rect x="-1" y="756.7" width="63" height="1.2" fill="#2a1703" fill-opacity=".85"/><rect x="-1" y="758.4" width="63" height="1.4" fill="#f5dc92" fill-opacity="0.35"/><rect x="-1" y="770.7" width="40.3" height="2.0" fill="#d8941c" fill-opacity=".85"/><rect x="39.3" y="770.7" width="22.7" height="2.0" fill="#c4841a" fill-opacity=".45"/><rect x="-1" y="772.7" width="63" height="1.2" fill="#2a1703" fill-opacity=".85"/><rect x="17.4" y="758.2" width="1.2" height="15.5" fill="#2a1703" fill-opacity=".62"/><rect x="18.8" y="759.2" width="1.2" height="13.0" fill="#e9c877" fill-opacity=".22"/><rect x="15.8" y="759.2" width="1.6" height="13.0" fill="#2a1703" fill-opacity=".22"/><rect x="38.7" y="758.2" width="1.2" height="15.5" fill="#2a1703" fill-opacity=".62"/><rect x="40.1" y="759.2" width="1.2" height="13.0" fill="#e9c877" fill-opacity=".22"/><rect x="37.1" y="759.2" width="1.6" height="13.0" fill="#2a1703" fill-opacity=".22"/><rect x="-1" y="774.4" width="63" height="1.4" fill="#f5dc92" fill-opacity="0.45"/><rect x="-1" y="787.2" width="41.0" height="1.2" fill="#d8941c" fill-opacity=".85"/><rect x="40.0" y="787.2" width="22.0" height="1.2" fill="#c4841a" fill-opacity=".45"/><rect x="-1" y="788.4" width="63" height="1.2" fill="#2a1703" fill-opacity=".85"/><rect x="-1" y="790.1" width="63" height="1.4" fill="#f5dc92" fill-opacity="0.85"/><rect x="-1" y="803.5" width="40.5" height="2.2" fill="#d8941c" fill-opacity=".85"/><rect x="39.5" y="803.5" width="22.5" height="2.2" fill="#c4841a" fill-opacity=".45"/><rect x="-1" y="805.7" width="63" height="1.2" fill="#2a1703" fill-opacity=".85"/><rect x="38.9" y="789.9" width="1.2" height="16.8" fill="#2a1703" fill-opacity=".62"/><rect x="40.3" y="790.9" width="1.2" height="14.3" fill="#e9c877" fill-opacity=".22"/><rect x="37.3" y="790.9" width="1.6" height="14.3" fill="#2a1703" fill-opacity=".22"/><rect x="-1" y="807.4" width="63" height="1.4" fill="#f5dc92" fill-opacity="0.85"/><rect x="-1" y="819.5" width="42.0" height="2.2" fill="#d8941c" fill-opacity=".85"/><rect x="41.0" y="819.5" width="21.0" height="2.2" fill="#c4841a" fill-opacity=".45"/><rect x="-1" y="821.7" width="63" height="1.2" fill="#2a1703" fill-opacity=".85"/><rect x="40.4" y="807.2" width="1.2" height="15.5" fill="#2a1703" fill-opacity=".62"/><rect x="41.8" y="808.2" width="1.2" height="13.0" fill="#e9c877" fill-opacity=".22"/><rect x="38.8" y="808.2" width="1.6" height="13.0" fill="#2a1703" fill-opacity=".22"/><rect x="-1" y="823.4" width="63" height="1.4" fill="#f5dc92" fill-opacity="0.85"/><rect x="-1" y="839.0" width="63" height="1.2" fill="#2a1703" fill-opacity=".85"/><rect x="39.7" y="823.2" width="1.2" height="16.8" fill="#2a1703" fill-opacity=".62"/><rect x="41.1" y="824.2" width="1.2" height="14.3" fill="#e9c877" fill-opacity=".22"/><rect x="38.1" y="824.2" width="1.6" height="14.3" fill="#2a1703" fill-opacity=".22"/><rect x="-1" y="840.7" width="63" height="1.4" fill="#f5dc92" fill-opacity="0.85"/><rect x="-1" y="853.5" width="40.5" height="2.2" fill="#d8941c" fill-opacity=".85"/><rect x="39.5" y="853.5" width="22.5" height="2.2" fill="#c4841a" fill-opacity=".45"/><rect x="-1" y="855.7" width="63" height="1.2" fill="#2a1703" fill-opacity=".85"/><rect x="38.9" y="840.5" width="1.2" height="16.2" fill="#2a1703" fill-opacity=".62"/><rect x="40.3" y="841.5" width="1.2" height="13.7" fill="#e9c877" fill-opacity=".22"/><rect x="37.3" y="841.5" width="1.6" height="13.7" fill="#2a1703" fill-opacity=".22"/><rect x="-1" y="857.4" width="63" height="1.4" fill="#f5dc92" fill-opacity="0.85"/><rect x="-1" y="869.5" width="42.0" height="2.2" fill="#d8941c" fill-opacity=".85"/><rect x="41.0" y="869.5" width="21.0" height="2.2" fill="#c4841a" fill-opacity=".45"/><rect x="-1" y="871.7" width="63" height="1.2" fill="#2a1703" fill-opacity=".85"/><rect x="40.4" y="857.2" width="1.2" height="15.5" fill="#2a1703" fill-opacity=".62"/><rect x="41.8" y="858.2" width="1.2" height="13.0" fill="#e9c877" fill-opacity=".22"/><rect x="38.8" y="858.2" width="1.6" height="13.0" fill="#2a1703" fill-opacity=".22"/><rect x="-1" y="873.4" width="63" height="1.4" fill="#f5dc92" fill-opacity="0.85"/><rect x="-1" y="887.0" width="63" height="1.2" fill="#2a1703" fill-opacity=".85"/><rect x="39.7" y="873.2" width="1.2" height="14.8" fill="#2a1703" fill-opacity=".62"/><rect x="41.1" y="874.2" width="1.2" height="12.3" fill="#e9c877" fill-opacity=".22"/><rect x="38.1" y="874.2" width="1.6" height="12.3" fill="#2a1703" fill-opacity=".22"/><rect x="-1" y="888.7" width="63" height="1.4" fill="#f5dc92" fill-opacity="0.25"/><rect x="-1" y="901.7" width="63" height="1.2" fill="#2a1703" fill-opacity=".85"/><rect x="17.8" y="888.5" width="1.2" height="14.2" fill="#2a1703" fill-opacity=".62"/><rect x="19.2" y="889.5" width="1.2" height="11.7" fill="#e9c877" fill-opacity=".22"/><rect x="16.2" y="889.5" width="1.6" height="11.7" fill="#2a1703" fill-opacity=".22"/><rect x="38.9" y="888.5" width="1.2" height="14.2" fill="#2a1703" fill-opacity=".62"/><rect x="40.3" y="889.5" width="1.2" height="11.7" fill="#e9c877" fill-opacity=".22"/><rect x="37.3" y="889.5" width="1.6" height="11.7" fill="#2a1703" fill-opacity=".22"/><rect x="-1" y="903.4" width="63" height="1.4" fill="#f5dc92" fill-opacity="0.15"/><rect x="-1" y="915.9" width="41.0" height="1.8" fill="#d8941c" fill-opacity=".85"/><rect x="40.0" y="915.9" width="22.0" height="1.8" fill="#c4841a" fill-opacity=".45"/><rect x="-1" y="917.7" width="63" height="1.2" fill="#2a1703" fill-opacity=".85"/><rect x="-1" y="919.4" width="63" height="1.4" fill="#f5dc92" fill-opacity="0.35"/><rect x="-1" y="931.7" width="40.3" height="2.0" fill="#d8941c" fill-opacity=".85"/><rect x="39.3" y="931.7" width="22.7" height="2.0" fill="#c4841a" fill-opacity=".45"/><rect x="-1" y="933.7" width="63" height="1.2" fill="#2a1703" fill-opacity=".85"/><rect x="17.4" y="919.2" width="1.2" height="15.5" fill="#2a1703" fill-opacity=".62"/><rect x="18.8" y="920.2" width="1.2" height="13.0" fill="#e9c877" fill-opacity=".22"/><rect x="15.8" y="920.2" width="1.6" height="13.0" fill="#2a1703" fill-opacity=".22"/><rect x="38.7" y="919.2" width="1.2" height="15.5" fill="#2a1703" fill-opacity=".62"/><rect x="40.1" y="920.2" width="1.2" height="13.0" fill="#e9c877" fill-opacity=".22"/><rect x="37.1" y="920.2" width="1.6" height="13.0" fill="#2a1703" fill-opacity=".22"/><rect x="-1" y="935.4" width="63" height="1.4" fill="#f5dc92" fill-opacity="0.45"/><rect x="-1" y="947.8" width="41.0" height="1.2" fill="#d8941c" fill-opacity=".85"/><rect x="40.0" y="947.8" width="22.0" height="1.2" fill="#c4841a" fill-opacity=".45"/><rect x="-1" y="949.0" width="63" height="1.2" fill="#2a1703" fill-opacity=".85"/><rect x="-1" y="950.7" width="63" height="1.4" fill="#f5dc92" fill-opacity="0.85"/><rect x="-1" y="963.5" width="40.5" height="2.2" fill="#d8941c" fill-opacity=".85"/><rect x="39.5" y="963.5" width="22.5" height="2.2" fill="#c4841a" fill-opacity=".45"/><rect x="-1" y="965.7" width="63" height="1.2" fill="#2a1703" fill-opacity=".85"/><rect x="38.9" y="950.5" width="1.2" height="16.2" fill="#2a1703" fill-opacity=".62"/><rect x="40.3" y="951.5" width="1.2" height="13.7" fill="#e9c877" fill-opacity=".22"/><rect x="37.3" y="951.5" width="1.6" height="13.7" fill="#2a1703" fill-opacity=".22"/><rect x="-1" y="967.4" width="63" height="1.4" fill="#f5dc92" fill-opacity="0.85"/><rect x="-1" y="979.5" width="42.0" height="2.2" fill="#d8941c" fill-opacity=".85"/><rect x="41.0" y="979.5" width="21.0" height="2.2" fill="#c4841a" fill-opacity=".45"/><rect x="-1" y="981.7" width="63" height="1.2" fill="#2a1703" fill-opacity=".85"/><rect x="40.4" y="967.2" width="1.2" height="15.5" fill="#2a1703" fill-opacity=".62"/><rect x="41.8" y="968.2" width="1.2" height="13.0" fill="#e9c877" fill-opacity=".22"/><rect x="38.8" y="968.2" width="1.6" height="13.0" fill="#2a1703" fill-opacity=".22"/><rect x="-1" y="983.4" width="63" height="1.4" fill="#f5dc92" fill-opacity="0.85"/><rect x="-1" y="998.4" width="63" height="1.2" fill="#2a1703" fill-opacity=".85"/><rect x="39.7" y="983.2" width="1.2" height="16.2" fill="#2a1703" fill-opacity=".62"/><rect x="41.1" y="984.2" width="1.2" height="13.7" fill="#e9c877" fill-opacity=".22"/><rect x="38.1" y="984.2" width="1.6" height="13.7" fill="#2a1703" fill-opacity=".22"/><rect x="-1" y="1000.1" width="63" height="1.4" fill="#f5dc92" fill-opacity="0.25"/><rect x="-1" y="1014.2" width="63" height="1.2" fill="#2a1703" fill-opacity=".85"/><rect x="17.8" y="999.9" width="1.2" height="15.3" fill="#2a1703" fill-opacity=".62"/><rect x="19.2" y="1000.9" width="1.2" height="12.8" fill="#e9c877" fill-opacity=".22"/><rect x="16.2" y="1000.9" width="1.6" height="12.8" fill="#2a1703" fill-opacity=".22"/><rect x="38.9" y="999.9" width="1.2" height="15.3" fill="#2a1703" fill-opacity=".62"/><rect x="40.3" y="1000.9" width="1.2" height="12.8" fill="#e9c877" fill-opacity=".22"/><rect x="37.3" y="1000.9" width="1.6" height="12.8" fill="#2a1703" fill-opacity=".22"/><rect x="-1" y="1015.9" width="63" height="1.4" fill="#f5dc92" fill-opacity="0.15"/><rect x="-1" y="1028.4" width="41.0" height="1.8" fill="#d8941c" fill-opacity=".85"/><rect x="40.0" y="1028.4" width="22.0" height="1.8" fill="#c4841a" fill-opacity=".45"/><rect x="-1" y="1030.2" width="63" height="1.2" fill="#2a1703" fill-opacity=".85"/><rect x="-1" y="1031.9" width="63" height="1.4" fill="#f5dc92" fill-opacity="0.35"/><rect x="-1" y="1045.0" width="40.3" height="2.0" fill="#d8941c" fill-opacity=".85"/><rect x="39.3" y="1045.0" width="22.7" height="2.0" fill="#c4841a" fill-opacity=".45"/><rect x="-1" y="1047.0" width="63" height="1.2" fill="#2a1703" fill-opacity=".85"/><rect x="17.4" y="1031.7" width="1.2" height="16.3" fill="#2a1703" fill-opacity=".62"/><rect x="18.8" y="1032.7" width="1.2" height="13.8" fill="#e9c877" fill-opacity=".22"/><rect x="15.8" y="1032.7" width="1.6" height="13.8" fill="#2a1703" fill-opacity=".22"/><rect x="38.7" y="1031.7" width="1.2" height="16.3" fill="#2a1703" fill-opacity=".62"/><rect x="40.1" y="1032.7" width="1.2" height="13.8" fill="#e9c877" fill-opacity=".22"/><rect x="37.1" y="1032.7" width="1.6" height="13.8" fill="#2a1703" fill-opacity=".22"/><rect x="-1" y="1048.7" width="63" height="1.4" fill="#f5dc92" fill-opacity="0.45"/><rect x="-1" y="1061.5" width="41.0" height="1.2" fill="#d8941c" fill-opacity=".85"/><rect x="40.0" y="1061.5" width="22.0" height="1.2" fill="#c4841a" fill-opacity=".45"/><rect x="-1" y="1062.7" width="63" height="1.2" fill="#2a1703" fill-opacity=".85"/><rect x="-1" y="1064.4" width="63" height="1.4" fill="#f5dc92" fill-opacity="0.85"/><rect x="-1" y="1077.0" width="40.5" height="2.2" fill="#d8941c" fill-opacity=".85"/><rect x="39.5" y="1077.0" width="22.5" height="2.2" fill="#c4841a" fill-opacity=".45"/><rect x="-1" y="1079.2" width="63" height="1.2" fill="#2a1703" fill-opacity=".85"/><rect x="38.9" y="1064.2" width="1.2" height="16.0" fill="#2a1703" fill-opacity=".62"/><rect x="40.3" y="1065.2" width="1.2" height="13.5" fill="#e9c877" fill-opacity=".22"/><rect x="37.3" y="1065.2" width="1.6" height="13.5" fill="#2a1703" fill-opacity=".22"/><rect x="-1" y="1080.9" width="63" height="1.4" fill="#f5dc92" fill-opacity="0.85"/><rect x="-1" y="1093.0" width="42.0" height="2.2" fill="#d8941c" fill-opacity=".85"/><rect x="41.0" y="1093.0" width="21.0" height="2.2" fill="#c4841a" fill-opacity=".45"/><rect x="-1" y="1095.2" width="63" height="1.2" fill="#2a1703" fill-opacity=".85"/><rect x="40.4" y="1080.7" width="1.2" height="15.5" fill="#2a1703" fill-opacity=".62"/><rect x="41.8" y="1081.7" width="1.2" height="13.0" fill="#e9c877" fill-opacity=".22"/><rect x="38.8" y="1081.7" width="1.6" height="13.0" fill="#2a1703" fill-opacity=".22"/><rect x="-1" y="1096.9" width="63" height="1.4" fill="#f5dc92" fill-opacity="0.85"/><rect x="-1" y="1107.5" width="63" height="1.2" fill="#2a1703" fill-opacity=".85"/><rect x="39.7" y="1096.7" width="1.2" height="11.8" fill="#2a1703" fill-opacity=".62"/><rect x="41.1" y="1097.7" width="1.2" height="9.3" fill="#e9c877" fill-opacity=".22"/><rect x="38.1" y="1097.7" width="1.6" height="9.3" fill="#2a1703" fill-opacity=".22"/></g><rect x="0" y="192" width="61" height="917" fill="url(#gH)"/></g></defs><line x1="524.5" y1="205.4" x2="730" y2="205.4" stroke="#b0b0b0" stroke-width="1" stroke-dasharray="4 4"/><line x1="84" y1="431.45" x2="730" y2="431.45" stroke="#b0b0b0" stroke-width="1" stroke-dasharray="4 4"/><line x1="84" y1="657.5" x2="730" y2="657.5" stroke="#b0b0b0" stroke-width="1" stroke-dasharray="4 4"/><line x1="429.9" y1="883.45" x2="730" y2="883.45" stroke="#b0b0b0" stroke-width="1" stroke-dasharray="4 4"/><text transform="translate(670.14 202.6) scale(0.6564 1)" font-family="Liberation Sans, sans-serif" font-weight="700" font-size="36.2" fill="#d9d9d9" stroke="#d9d9d9" stroke-width="1.1">8000</text><text transform="translate(670.14 427.6) scale(0.6564 1)" font-family="Liberation Sans, sans-serif" font-weight="700" font-size="36.2" fill="#d9d9d9" stroke="#d9d9d9" stroke-width="1.1">6000</text><text transform="translate(669.54 650.8) scale(0.6641 1)" font-family="Liberation Sans, sans-serif" font-weight="700" font-size="36.2" fill="#d9d9d9" stroke="#d9d9d9" stroke-width="1.1">4000</text><text transform="translate(670.35 879.7) scale(0.6538 1)" font-family="Liberation Sans, sans-serif" font-weight="700" font-size="36.2" fill="#d9d9d9" stroke="#d9d9d9" stroke-width="1.1">2000</text><g transform="translate(23.20 0)" clip-path="url(#c0)"><use href="#gold"/></g><g transform="translate(92.45 0)" clip-path="url(#c1)"><use href="#gold"/></g><g transform="translate(161.70 0)" clip-path="url(#c2)"><use href="#gold"/></g><g transform="translate(230.95 0)" clip-path="url(#c3)"><use href="#gold"/></g><g transform="translate(300.20 0)" clip-path="url(#c4)"><use href="#gold"/></g><g transform="translate(369.45 0)" clip-path="url(#c5)"><use href="#gold"/></g><g transform="translate(438.70 0)" clip-path="url(#c6)"><use href="#gold"/></g><g transform="translate(507.95 0)" clip-path="url(#c7)"><use href="#gold"/></g><g transform="translate(577.20 0)" clip-path="url(#c8)"><use href="#gold"/></g><g transform="translate(646.45 0)" clip-path="url(#c9)"><use href="#gold"/></g><rect x="23" y="1108" width="684.5" height="2" fill="#0a0a0a"/><rect x="52.85" y="1110" width="1" height="9.4" fill="#6a6a6a"/><g transform="translate(53.35 1142.3)"><circle r="23.2" fill="#fff" stroke="#d8d8d8" stroke-width=".9"/><g clip-path="url(#fc)"><rect x="-22.0" y="-22.0" width="44.0" height="44.0" fill="#fff"/><rect x="-22.0" y="-22.00" width="44.0" height="3.12" fill="#c8102e"/><rect x="-22.0" y="-15.76" width="44.0" height="3.12" fill="#c8102e"/><rect x="-22.0" y="-9.52" width="44.0" height="3.12" fill="#c8102e"/><rect x="-22.0" y="-3.28" width="44.0" height="3.12" fill="#c8102e"/><rect x="-22.0" y="2.96" width="44.0" height="3.12" fill="#c8102e"/><rect x="-22.0" y="9.20" width="44.0" height="3.12" fill="#c8102e"/><rect x="-22.0" y="15.44" width="44.0" height="3.12" fill="#c8102e"/><rect x="-22.0" y="21.68" width="44.0" height="3.12" fill="#c8102e"/><rect x="-22.0" y="-22.0" width="19.80" height="24.96" fill="#1f2f66"/><polygon points="-13.10,-16.90 -12.70,-15.75 -11.48,-15.73 -12.45,-14.99 -12.10,-13.82 -13.10,-14.52 -14.10,-13.82 -13.75,-14.99 -14.72,-15.73 -13.50,-15.75" fill="#fff"/><polygon points="-5.30,-16.90 -4.90,-15.75 -3.68,-15.73 -4.65,-14.99 -4.30,-13.82 -5.30,-14.52 -6.30,-13.82 -5.95,-14.99 -6.92,-15.73 -5.70,-15.75" fill="#fff"/><polygon points="-16.80,-12.40 -16.40,-11.25 -15.18,-11.23 -16.15,-10.49 -15.80,-9.32 -16.80,-10.02 -17.80,-9.32 -17.45,-10.49 -18.42,-11.23 -17.20,-11.25" fill="#fff"/><polygon points="-9.30,-12.40 -8.90,-11.25 -7.68,-11.23 -8.65,-10.49 -8.30,-9.32 -9.30,-10.02 -10.30,-9.32 -9.95,-10.49 -10.92,-11.23 -9.70,-11.25" fill="#fff"/><polygon points="-20.60,-7.60 -20.20,-6.45 -18.98,-6.43 -19.95,-5.69 -19.60,-4.52 -20.60,-5.22 -21.60,-4.52 -21.25,-5.69 -22.22,-6.43 -21.00,-6.45" fill="#fff"/><polygon points="-13.10,-7.60 -12.70,-6.45 -11.48,-6.43 -12.45,-5.69 -12.10,-4.52 -13.10,-5.22 -14.10,-4.52 -13.75,-5.69 -14.72,-6.43 -13.50,-6.45" fill="#fff"/><polygon points="-5.30,-7.60 -4.90,-6.45 -3.68,-6.43 -4.65,-5.69 -4.30,-4.52 -5.30,-5.22 -6.30,-4.52 -5.95,-5.69 -6.92,-6.43 -5.70,-6.45" fill="#fff"/><polygon points="-16.80,-2.90 -16.40,-1.75 -15.18,-1.73 -16.15,-0.99 -15.80,0.18 -16.80,-0.52 -17.80,0.18 -17.45,-0.99 -18.42,-1.73 -17.20,-1.75" fill="#fff"/><polygon points="-9.30,-2.90 -8.90,-1.75 -7.68,-1.73 -8.65,-0.99 -8.30,0.18 -9.30,-0.52 -10.30,0.18 -9.95,-0.99 -10.92,-1.73 -9.70,-1.75" fill="#fff"/></g></g><rect x="121.85" y="1110" width="1" height="9.4" fill="#6a6a6a"/><g transform="translate(122.35 1142.3)"><circle r="23.2" fill="#fff" stroke="#d8d8d8" stroke-width=".9"/><g clip-path="url(#fc)"><rect x="-22.0" y="-22.0" width="44.0" height="14.87" fill="#000"/><rect x="-22.0" y="-7.33" width="44.0" height="14.87" fill="#dd0000"/><rect x="-22.0" y="7.33" width="44.0" height="14.67" fill="#ffce00"/></g></g><rect x="190.85" y="1110" width="1" height="9.4" fill="#6a6a6a"/><g transform="translate(191.35 1142.3)"><circle r="23.2" fill="#fff" stroke="#d8d8d8" stroke-width=".9"/><g clip-path="url(#fc)"><rect x="-22.0" y="-22.0" width="44.0" height="44.0" fill="#fff"/><rect x="-22.0" y="-22.0" width="11.00" height="44.0" fill="#0a9347"/><rect x="11.88" y="-22.0" width="10.12" height="44.0" fill="#cf2f3c"/></g></g><rect x="259.85" y="1110" width="1" height="9.4" fill="#6a6a6a"/><g transform="translate(260.35 1142.3)"><circle r="23.2" fill="#fff" stroke="#d8d8d8" stroke-width=".9"/><g clip-path="url(#fc)"><rect x="-22.0" y="-22.0" width="44.0" height="44.0" fill="#fff"/><rect x="-22.0" y="-22.0" width="14.96" height="44.0" fill="#0b2a5b"/><rect x="7.92" y="-22.0" width="14.08" height="44.0" fill="#cf142b"/></g></g><rect x="328.85" y="1110" width="1" height="9.4" fill="#6a6a6a"/><g transform="translate(329.35 1142.3)"><circle r="23.2" fill="#fff" stroke="#d8d8d8" stroke-width=".9"/><g clip-path="url(#fc)"><rect x="-22.0" y="-22.0" width="44.0" height="44.0" fill="#fff"/><rect x="-22.0" y="-7.33" width="44.0" height="14.87" fill="#0b3fa8"/><rect x="-22.0" y="7.33" width="44.0" height="14.67" fill="#d63027"/></g></g><rect x="397.85" y="1110" width="1" height="9.4" fill="#6a6a6a"/><g transform="translate(398.35 1142.3)"><circle r="23.2" fill="#fff" stroke="#d8d8d8" stroke-width=".9"/><g clip-path="url(#fc)"><rect x="-22.0" y="-22.0" width="44.0" height="44.0" fill="#de2a15"/><polygon points="-9.80,-9.60 -7.92,-4.19 -2.19,-4.07 -6.76,-0.61 -5.10,4.87 -9.80,1.60 -14.50,4.87 -12.84,-0.61 -17.41,-4.07 -11.68,-4.19" fill="#ffde00"/><polygon points="4.60,-12.22 4.22,-10.26 5.94,-9.22 3.95,-8.97 3.49,-7.02 2.64,-8.83 0.64,-8.66 2.10,-10.03 1.33,-11.88 3.08,-10.91" fill="#ffde00"/><polygon points="10.92,-5.50 9.61,-3.98 10.58,-2.23 8.73,-3.00 7.36,-1.54 7.53,-3.54 5.72,-4.39 7.67,-4.85 7.92,-6.84 8.96,-5.12" fill="#ffde00"/><polygon points="8.50,1.10 9.16,2.99 11.16,3.03 9.57,4.25 10.15,6.17 8.50,5.02 6.85,6.17 7.43,4.25 5.84,3.03 7.84,2.99" fill="#ffde00"/><polygon points="4.60,7.58 4.22,9.54 5.94,10.58 3.95,10.83 3.49,12.78 2.64,10.97 0.64,11.14 2.10,9.77 1.33,7.92 3.08,8.89" fill="#ffde00"/></g></g><rect x="466.85" y="1110" width="1" height="9.4" fill="#6a6a6a"/><g transform="translate(467.35 1142.3)"><circle r="23.2" fill="#fff" stroke="#d8d8d8" stroke-width=".9"/><g clip-path="url(#fc)"><rect x="-22.0" y="-22.0" width="44.0" height="44.0" fill="#ff0000"/><rect x="-4.9" y="-14.8" width="9.8" height="29.6" fill="#fff"/><rect x="-14.8" y="-4.9" width="29.6" height="9.8" fill="#fff"/></g></g><rect x="535.85" y="1110" width="1" height="9.4" fill="#6a6a6a"/><g transform="translate(536.35 1142.3)"><circle r="23.2" fill="#fff" stroke="#d8d8d8" stroke-width=".9"/><g clip-path="url(#fc)"><rect x="-22.0" y="-22.0" width="44.0" height="44.0" fill="#fff"/><circle cx="0" cy="0" r="13.7" fill="#bc002d"/></g></g><rect x="604.85" y="1110" width="1" height="9.4" fill="#6a6a6a"/><g transform="translate(605.35 1142.3)"><circle r="23.2" fill="#fff" stroke="#d8d8d8" stroke-width=".9"/><g clip-path="url(#fc)"><rect x="-22.0" y="-22.0" width="44.0" height="44.0" fill="#fff"/><rect x="-22.0" y="-22.0" width="44.0" height="14.67" fill="#f97b28"/><rect x="-22.0" y="7.33" width="44.0" height="14.67" fill="#0e6b32"/><circle cx="0" cy="0" r="6.9" fill="none" stroke="#1b2a80" stroke-width="1.3"/><circle cx="0" cy="0" r="1.8" fill="#1b2a80"/><line x1="-6.40" y1="-0.00" x2="6.40" y2="0.00" stroke="#1b2a80" stroke-width=".5"/><line x1="-6.18" y1="-1.66" x2="6.18" y2="1.66" stroke="#1b2a80" stroke-width=".5"/><line x1="-5.54" y1="-3.20" x2="5.54" y2="3.20" stroke="#1b2a80" stroke-width=".5"/><line x1="-4.53" y1="-4.53" x2="4.53" y2="4.53" stroke="#1b2a80" stroke-width=".5"/><line x1="-3.20" y1="-5.54" x2="3.20" y2="5.54" stroke="#1b2a80" stroke-width=".5"/><line x1="-1.66" y1="-6.18" x2="1.66" y2="6.18" stroke="#1b2a80" stroke-width=".5"/><line x1="-0.00" y1="-6.40" x2="0.00" y2="6.40" stroke="#1b2a80" stroke-width=".5"/><line x1="1.66" y1="-6.18" x2="-1.66" y2="6.18" stroke="#1b2a80" stroke-width=".5"/><line x1="3.20" y1="-5.54" x2="-3.20" y2="5.54" stroke="#1b2a80" stroke-width=".5"/><line x1="4.53" y1="-4.53" x2="-4.53" y2="4.53" stroke="#1b2a80" stroke-width=".5"/><line x1="5.54" y1="-3.20" x2="-5.54" y2="3.20" stroke="#1b2a80" stroke-width=".5"/><line x1="6.18" y1="-1.66" x2="-6.18" y2="1.66" stroke="#1b2a80" stroke-width=".5"/></g></g><rect x="673.85" y="1110" width="1" height="9.4" fill="#6a6a6a"/><g transform="translate(674.35 1142.3)"><circle r="23.2" fill="#fff" stroke="#d8d8d8" stroke-width=".9"/><g clip-path="url(#fc)"><rect x="-22.0" y="-22.0" width="44.0" height="44.0" fill="#fff"/><rect x="-22.0" y="-22.0" width="44.0" height="14.67" fill="#b01f33"/><rect x="-22.0" y="7.33" width="44.0" height="14.67" fill="#21468b"/></g></g><text transform="translate(22.92 187.9) scale(0.6786 1)" font-family="Liberation Sans, sans-serif" font-weight="700" font-size="34.6" fill="#0a0a0a" stroke="#0a0a0a" stroke-width=".2">8,133</text><text transform="translate(92.03 718) scale(0.669 1)" font-family="Liberation Sans, sans-serif" font-weight="700" font-size="34.6" fill="#0a0a0a" stroke="#0a0a0a" stroke-width=".2">3,352</text><text transform="translate(162.05 814.5) scale(0.6524 1)" font-family="Liberation Sans, sans-serif" font-weight="700" font-size="34.6" fill="#0a0a0a" stroke="#0a0a0a" stroke-width=".2">2,452</text><text transform="translate(231.04 831.8) scale(0.6619 1)" font-family="Liberation Sans, sans-serif" font-weight="700" font-size="34.6" fill="#0a0a0a" stroke="#0a0a0a" stroke-width=".2">2,437</text><text transform="translate(300.13 849.8) scale(0.6702 1)" font-family="Liberation Sans, sans-serif" font-weight="700" font-size="34.6" fill="#0a0a0a" stroke="#0a0a0a" stroke-width=".2">2,336</text><text transform="translate(368.34 849.8) scale(0.6635 1)" font-family="Liberation Sans, sans-serif" font-weight="700" font-size="34.6" fill="#0a0a0a" stroke="#0a0a0a" stroke-width=".2">2,264</text><text transform="translate(440.19 993.4) scale(0.6566 1)" font-family="Liberation Sans, sans-serif" font-weight="700" font-size="34.6" fill="#0a0a0a" stroke="#0a0a0a" stroke-width=".2">1,040</text><text transform="translate(517.5 1008.7) scale(0.6982 1)" font-family="Liberation Sans, sans-serif" font-weight="700" font-size="34.6" fill="#0a0a0a" stroke="#0a0a0a" stroke-width=".2">846</text><text transform="translate(586.65 1008.7) scale(0.65 1)" font-family="Liberation Sans, sans-serif" font-weight="700" font-size="34.6" fill="#0a0a0a" stroke="#0a0a0a" stroke-width=".2">841</text><text transform="translate(652.9 1026) scale(0.6982 1)" font-family="Liberation Sans, sans-serif" font-weight="700" font-size="34.6" fill="#0a0a0a" stroke="#0a0a0a" stroke-width=".2">612</text><text transform="translate(75.2 1174.5) rotate(-66)" text-anchor="end" font-family='Liberation Sans,Mukta,Ek Mukta,Noto Sans Devanagari,Lohit Devanagari,FreeSans,sans-serif' font-weight="300" font-size="35" fill="#0c0c0c" stroke="#0c0c0c" stroke-width=".35">अमेरिका</text><text transform="translate(142.2 1173.5) rotate(-66)" text-anchor="end" font-family='Liberation Sans,Mukta,Ek Mukta,Noto Sans Devanagari,Lohit Devanagari,FreeSans,sans-serif' font-weight="300" font-size="35" fill="#0c0c0c" stroke="#0c0c0c" stroke-width=".35">जर्मनी</text><text transform="translate(211.6 1173.3) rotate(-66)" text-anchor="end" font-family='Liberation Sans,Mukta,Ek Mukta,Noto Sans Devanagari,Lohit Devanagari,FreeSans,sans-serif' font-weight="300" font-size="35" fill="#0c0c0c" stroke="#0c0c0c" stroke-width=".35">इटली</text><text transform="translate(277.0 1173.4) rotate(-66)" text-anchor="end" font-family='Liberation Sans,Mukta,Ek Mukta,Noto Sans Devanagari,Lohit Devanagari,FreeSans,sans-serif' font-weight="300" font-size="35" fill="#0c0c0c" stroke="#0c0c0c" stroke-width=".35">फ्रांस</text><text transform="translate(343.2 1174.9) rotate(-66)" text-anchor="end" font-family='Liberation Sans,Mukta,Ek Mukta,Noto Sans Devanagari,Lohit Devanagari,FreeSans,sans-serif' font-weight="300" font-size="35" fill="#0c0c0c" stroke="#0c0c0c" stroke-width=".35">रूस</text><text transform="translate(411.8 1174.6) rotate(-66)" text-anchor="end" font-family='Liberation Sans,Mukta,Ek Mukta,Noto Sans Devanagari,Lohit Devanagari,FreeSans,sans-serif' font-weight="300" font-size="35" fill="#0c0c0c" stroke="#0c0c0c" stroke-width=".35">चीन</text><text transform="translate(496.0 1172.9) rotate(-66)" text-anchor="end" font-family='Liberation Sans,Mukta,Ek Mukta,Noto Sans Devanagari,Lohit Devanagari,FreeSans,sans-serif' font-weight="300" font-size="35" fill="#0c0c0c" stroke="#0c0c0c" stroke-width=".35">स्विट्जरलैंड</text><text transform="translate(561.4 1173.9) rotate(-66)" text-anchor="end" font-family='Liberation Sans,Mukta,Ek Mukta,Noto Sans Devanagari,Lohit Devanagari,FreeSans,sans-serif' font-weight="300" font-size="35" fill="#0c0c0c" stroke="#0c0c0c" stroke-width=".35">जापान</text><text transform="translate(625.2 1173.9) rotate(-66)" text-anchor="end" font-family='Liberation Sans,Mukta,Ek Mukta,Noto Sans Devanagari,Lohit Devanagari,FreeSans,sans-serif' font-weight="300" font-size="35" fill="#0c0c0c" stroke="#0c0c0c" stroke-width=".35">भारत</text><text transform="translate(702.1 1174.6) rotate(-66)" text-anchor="end" font-family='Liberation Sans,Mukta,Ek Mukta,Noto Sans Devanagari,Lohit Devanagari,FreeSans,sans-serif' font-weight="300" font-size="35" fill="#0c0c0c" stroke="#0c0c0c" stroke-width=".35">नीदरलैंड</text></svg>
<div class="t" style="top:25.4px"><span>अमेरिका के पास</span></div>
<div class="t" style="top:103.6px"><span style="transform:scale(1.01,.975);transform-origin:50% 64%">सबसे ज्यादा सोना</span></div>
<div class="t" style="top:181.4px"><span style="transform:scaleX(1.06)">चीन <b class="d">6</b>वें और</span></div>
<div class="t" style="top:258.1px;left:-3px"><span style="transform:scaleX(1.045)">भारत <b class="d">9</b>वें नंबर पर</span></div>
<div id="pill"><span>गोल्ड रिजर्व <i>(</i>मीट्रिक टन<i>)</i></span></div>
<div id="logo"><svg width="72" height="72" viewBox="0 0 72 72" style="position:absolute;left:0;top:0"><circle cx="36" cy="18.2" r="8.3" fill="#f5a324"/><circle cx="36" cy="18.2" r="8.7" fill="none" stroke="#f5a324" stroke-width="1.8" stroke-dasharray="0.8 0.72"/></svg><div style="top:31.9px;font-size:16.8px;line-height:20px;transform:scaleX(1.29)">दैनिक</div><div style="top:46.9px;font-size:16.8px;line-height:20px;transform:scaleX(1.29)">भास्कर</div></div>
<div id="foot">सोर्स- वर्ल्ड गोल्ड काउंसिल</div>
</body></html>
